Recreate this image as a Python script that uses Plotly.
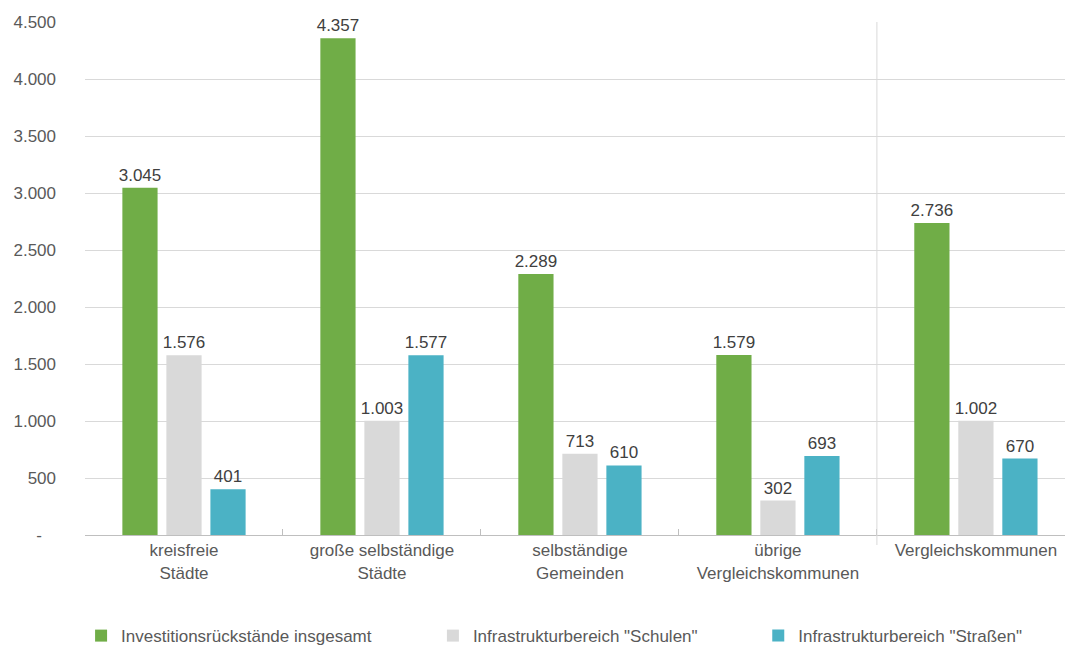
import plotly.graph_objects as go

categories = [
    "kreisfreie<br>Städte",
    "große selbständige<br>Städte",
    "selbständige<br>Gemeinden",
    "übrige<br>Vergleichskommunen",
    "Vergleichskommunen",
]
series_names = [
    "Investitionsrückstände insgesamt",
    'Infrastrukturbereich "Schulen"',
    'Infrastrukturbereich "Straßen"',
]
insgesamt = [3045, 4357, 2289, 1579, 2736]
schulen = [1576, 1003, 713, 302, 1002]
strassen = [401, 1577, 610, 693, 670]
colors = ["#70AD47", "#D9D9D9", "#4BB2C5"]
y_ticks = [0, 500, 1000, 1500, 2000, 2500, 3000, 3500, 4000, 4500]


def de_num(v):
    return f"{v:,}".replace(",", ".")


FONT = "Liberation Sans, Arial, sans-serif"
legend_ids = ["legend", "legend2", "legend3"]
legend_x = [-0.004, 0.355, 0.687]

fig = go.Figure()
for name, vals, col, lid in zip(series_names, [insgesamt, schulen, strassen], colors, legend_ids):
    fig.add_trace(go.Bar(
        x=categories, y=vals, name=name, legend=lid,
        marker=dict(color=col, line=dict(width=0)),
        text=[de_num(v) for v in vals],
        textposition="outside", cliponaxis=False, constraintext="none",
        textfont=dict(family=FONT, size=17, color="#404040"),
    ))

tick_text = [de_num(v) if v else "-\u00a0\u00a0\u00a0" for v in y_ticks]

legend_style = dict(orientation="h", xanchor="left", y=-0.197, yanchor="middle",
                    font=dict(size=17, color="#595959"), bgcolor="rgba(0,0,0,0)")

fig.update_layout(
    width=1065, height=646,
    margin=dict(l=85, r=0, t=22, b=111, autoexpand=False),
    paper_bgcolor="white", plot_bgcolor="white",
    barmode="group", bargap=0.333, bargroupgap=0.2,
    font=dict(family=FONT, size=17, color="#595959"),
    showlegend=True,
    legend=dict(x=legend_x[0], **legend_style),
    legend2=dict(x=legend_x[1], **legend_style),
    legend3=dict(x=legend_x[2], **legend_style),
    xaxis=dict(
        range=[-0.5, 4.45], showgrid=False,
        showline=True, linecolor="#BFBFBF", linewidth=1,
        ticks="inside", ticklen=6, tickcolor="#BFBFBF", tickson="boundaries",
        tickfont=dict(size=17, color="#595959"),
    ),
    yaxis=dict(
        range=[0, 4500], tickvals=y_ticks, ticktext=tick_text,
        showgrid=True, gridcolor="#D9D9D9", gridwidth=1,
        zeroline=False, showline=False, ticks="",
        ticklabelstandoff=28,
        tickfont=dict(size=17, color="#595959"),
    ),
)

# vertical divider before the overall comparison group
fig.add_shape(type="line", xref="x", yref="paper", x0=3.5, x1=3.5,
              y0=-10 / 513, y1=1, line=dict(color="#D9D9D9", width=1))

fig.write_html("out.html")
